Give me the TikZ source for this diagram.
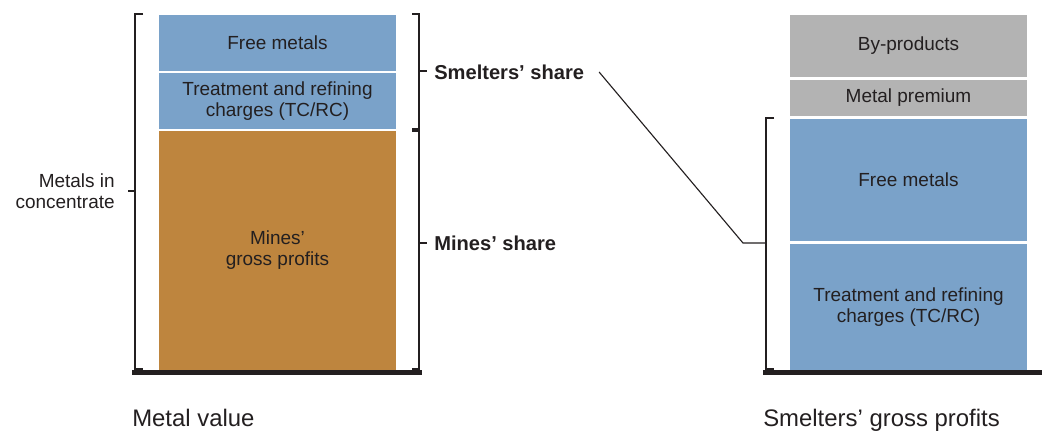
\documentclass[tikz,border=0pt]{standalone}
\usepackage{fontspec}
\setmainfont{Liberation Sans}
\definecolor{barblue}{HTML}{7AA2C9}
\definecolor{barbrown}{HTML}{BE853E}
\definecolor{bargray}{HTML}{B3B3B3}
\definecolor{ink}{HTML}{231F20}

\begin{document}
\begin{tikzpicture}[x=0.025cm,y=-0.025cm,
  seg/.style={inner sep=0pt,outer sep=0pt,minimum width=5.925cm,align=center,
    text=ink,font=\fontsize{13.5}{15}\selectfont},
  brack/.style={ink,line width=0.8pt},
  floor/.style={ink,line width=3.6pt},
  lbl/.style={inner sep=0pt,text=ink,font=\fontsize{13.5}{15}\selectfont},
  share/.style={inner sep=0pt,text=ink,font=\fontsize{14.3}{16}\selectfont\bfseries},
  caption/.style={inner sep=0pt,text=ink,font=\fontsize{17}{19}\selectfont}]
\useasboundingbox (0,0) rectangle (1042,430);
% metal value
\begin{scope}
  \node[seg,fill=barblue,minimum height=1.4cm] (lfree) at (277.5,43) {Free metals};
  \node[seg,fill=barblue,minimum height=1.4cm] (ltc) at (277.5,101) {Treatment and refining\\charges (TC/RC)};
  \node[seg,fill=barbrown,minimum height=5.975cm] (lmine) at (277.5,250.5) {Mines’\\gross profits};
  \draw[floor] (132,372.5) -- (422,372.5);
  \draw[brack] (143,14) -- (135,14) -- (135,369) -- (143,369);
  \draw[brack] (135,191) -- (128,191);
  \node[lbl,anchor=east,align=right] (conc) at (115,191) {Metals in\\concentrate};
  \draw[brack] (412,14) -- (419,14) -- (419,129) -- (412,129);
  \draw[brack] (419,71) -- (427,71);
  \draw[brack] (412,131) -- (419,131) -- (419,369) -- (412,369);
  \draw[brack] (419,243) -- (427,243);
  \node[share,anchor=west] (smelt) at (434,72) {Smelters’ share};
  \node[share,anchor=west] (mines) at (434,243) {Mines’ share};
  \node[caption,anchor=base west] (mval) at (132,426) {Metal value};
\end{scope}
% smelters' gross profits
\begin{scope}
  \node[seg,fill=bargray,minimum height=1.55cm] (rby) at (908.5,46) {By-products};
  \node[seg,fill=bargray,minimum height=0.9cm] (rprem) at (908.5,98) {Metal premium};
  \node[seg,fill=barblue,minimum height=3.05cm] (rfree) at (908.5,180) {Free metals};
  \node[seg,fill=barblue,minimum height=3.15cm] (rtc) at (908.5,307) {Treatment and refining\\charges (TC/RC)};
  \draw[floor] (763,372.5) -- (1042,372.5);
  \draw[brack] (774,118) -- (766,118) -- (766,369) -- (774,369);
  \coordinate (rmid) at (766,243);
  \coordinate (kink) at (743,243);
  \node[caption,anchor=base west] (sgp) at (763,426) {Smelters’ gross profits};
\end{scope}
\draw[brack] ([xshift=10.5pt]smelt.east) -- (kink) -- (rmid);
\end{tikzpicture}
\end{document}
